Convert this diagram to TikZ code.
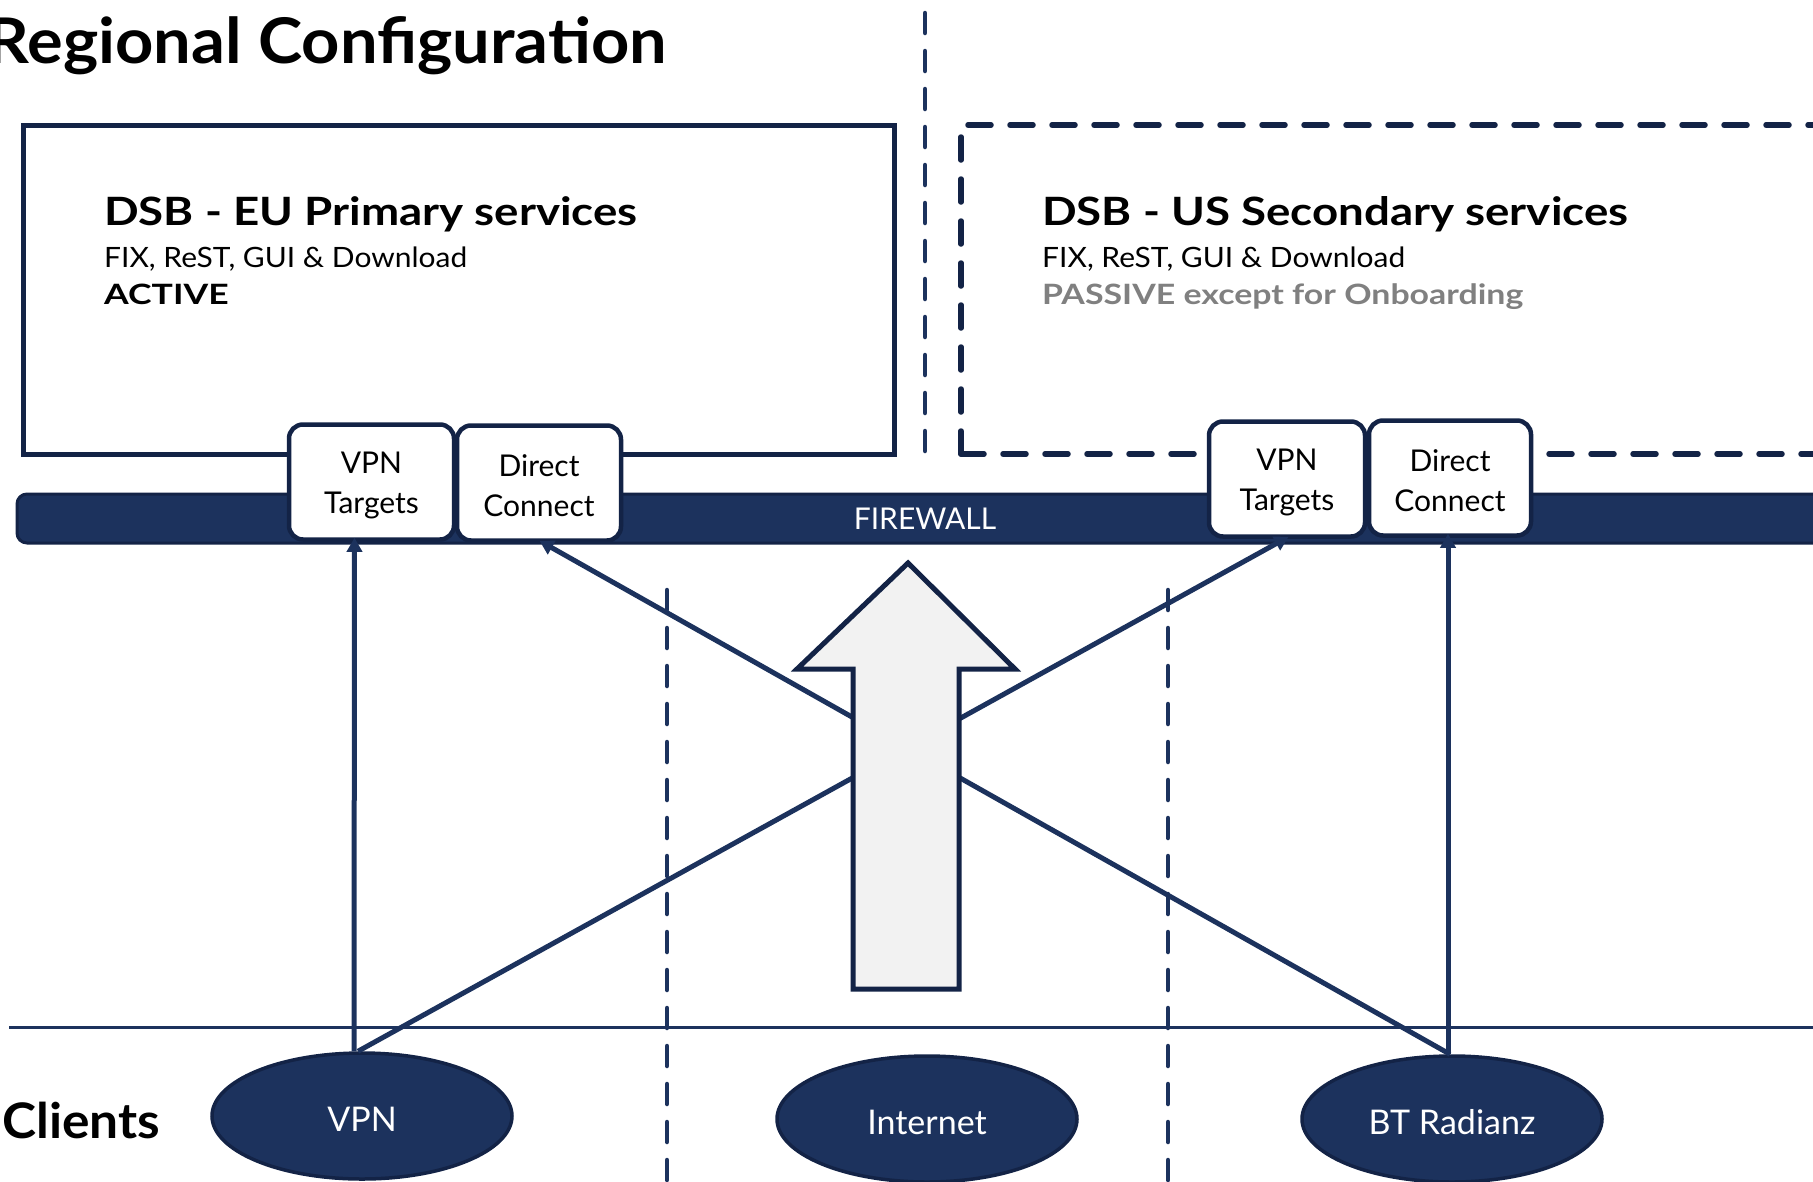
\documentclass[tikz,border=0pt]{standalone}
\usepackage{fontspec}
\setmainfont{Lato}
\newfontfamily\titlefont[FakeStretch=1.06]{Lato}
\newfontfamily\hdfont[FakeStretch=1.17]{Lato}
\newfontfamily\subfont[FakeStretch=1.07]{Lato}
\newfontfamily\actfont[FakeStretch=1.27]{Lato}
\newfontfamily\pasfont[FakeStretch=1.21]{Lato}
\newfontfamily\clifont[FakeStretch=1.05]{Lato}
\newcommand\tup{\rule{0pt}{28pt}}
\usetikzlibrary{arrows.meta,shapes.geometric}
\definecolor{navy}{RGB}{28,50,93}
\definecolor{navydark}{RGB}{19,35,70}
\definecolor{grayt}{RGB}{128,128,128}
\definecolor{arrowfill}{RGB}{242,242,242}
\tikzset{
  sep/.style={draw=navy, line width=4.5pt, line cap=round, dash pattern=on 20pt off 18pt},
  conn/.style={draw=navy, line width=5pt, -{Triangle[length=14pt,width=15pt]}, shorten >=-4pt},
  tbox/.style={draw=navydark, fill=white, line width=4.5pt, rounded corners=14pt, align=center,
    font=\fontsize{30}{40}\selectfont, text=black, inner sep=0pt},
  client/.style={ellipse, draw=navydark, fill=navy, line width=3.5pt, minimum width=300pt,
    minimum height=126pt, text=white, font=\fontsize{34}{40}\selectfont, inner sep=0pt,
    text height=30pt, text depth=0pt},
  hd/.style={anchor=base west, font=\hdfont\fontsize{39}{47}\selectfont\bfseries, inner sep=0pt},
  sub/.style={anchor=base west, font=\subfont\fontsize{28}{34}\selectfont, inner sep=0pt},
}
\begin{document}
\begin{tikzpicture}[x=1pt,y=-1pt]
\useasboundingbox (0,0) rectangle (1813,1181);
% separators
\draw[sep] (925,13) -- (925,451);
\draw[sep] (667,590) -- (667,1190);
\draw[sep] (1168,590) -- (1168,1190);
% horizontal line
\draw[navy, line width=3pt] (9,1027) -- (1850,1027);
% EU box
\draw[navydark, line width=5pt] (23,125) rectangle (894,454);
% US dashed box
\draw[navydark, line width=5.5pt, dash pattern=on 23pt off 19pt, line cap=round] (961,454) -- (961,125) -- (1860,125);
\draw[navydark, line width=5.5pt, dash pattern=on 23pt off 19pt, line cap=round] (961,454) -- (1860,454);
% firewall bar
\draw[navydark, fill=navy, line width=3pt, rounded corners=10pt] (17,494) rectangle (1860,543);
\node[text=white, font=\fontsize{30}{36}\selectfont, inner sep=0pt] (fw) at (925,519) {FIREWALL};
% target boxes
\node[tbox, minimum width=165pt, minimum height=115pt] (euvpn) at (371.5,482) {\tup VPN\\Targets};
\node[tbox, minimum width=164pt, minimum height=115pt] (eudc) at (539,483) {\tup Direct\\Connect};
\node[tbox, minimum width=156pt, minimum height=115pt] (usvpn) at (1287,479) {\tup VPN\\Targets};
\node[tbox, minimum width=162pt, minimum height=115pt] (usdc) at (1450,478) {\tup Direct\\Connect};
% clients
\node[client] (cvpn) at (362,1116) {VPN};
\node[client] (cnet) at (927,1119) {Internet};
\node[client] (cbt) at (1452,1119) {BT Radianz};
% connectors
\draw[conn] ([xshift=-8pt]cvpn.north) -- ([xshift=-17pt]euvpn.south);
\draw[conn] ([xshift=-4pt]cvpn.north) -- ([xshift=-2pt]usvpn.south);
\draw[conn] ([xshift=-2pt]cbt.north) -- ([xshift=4pt]eudc.south);
\draw[conn] ([xshift=-4pt]cbt.north) -- ([xshift=-2pt]usdc.south);
% big arrow
\draw[navydark, fill=arrowfill, line width=5pt] (908,563) -- (1015,669) -- (959,669) -- (959,989) -- (853,989) -- (853,669) -- (797,669) -- cycle;
% texts
\node[anchor=base east, font=\titlefont\fontsize{63}{70}\selectfont\bfseries, inner sep=0pt] (title) at (667,63) {Regional Configuration};
\node[hd] (euh) at (104,225) {DSB - EU Primary services};
\node[sub] (eus) at (104,267) {FIX, ReST, GUI \& Download};
\node[sub, font=\actfont\fontsize{28}{34}\selectfont\bfseries] (eua) at (104,304) {ACTIVE};
\node[hd] (ush) at (1042,225) {DSB - US Secondary services};
\node[sub] (uss) at (1042,267) {FIX, ReST, GUI \& Download};
\node[sub, text=grayt, font=\pasfont\fontsize{28}{34}\selectfont\bfseries] (usp) at (1042,304) {PASSIVE except for Onboarding};
\node[anchor=base west, font=\clifont\fontsize{49}{56}\selectfont\bfseries, inner sep=0pt] (clients) at (2,1138) {Clients};
\end{tikzpicture}
\end{document}
